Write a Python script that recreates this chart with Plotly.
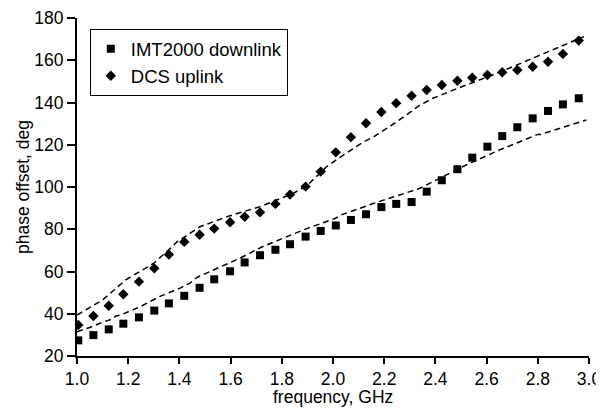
import plotly.graph_objects as go

# measured frequencies (GHz)
freq = [1.005, 1.064, 1.124, 1.181, 1.242, 1.302, 1.359, 1.419, 1.479, 1.536,
        1.598, 1.655, 1.715, 1.775, 1.832, 1.893, 1.952, 2.011, 2.070, 2.129,
        2.189, 2.247, 2.307, 2.366, 2.425, 2.486, 2.544, 2.603, 2.661, 2.720,
        2.780, 2.840, 2.898, 2.960]

imt_meas = [27.4, 29.9, 32.6, 35.3, 38.3, 41.5, 44.9, 48.5, 52.3, 56.3,
            60.1, 64.3, 67.7, 70.3, 72.9, 76.5, 79.2, 81.8, 84.4, 87.1,
            90.5, 92.0, 92.9, 97.8, 103.2, 108.4, 113.9, 119.1, 124.1, 128.3,
            132.5, 136.0, 139.1, 142.0]

dcs_meas = [34.7, 38.9, 43.8, 49.2, 55.2, 61.5, 68.0, 74.0, 77.4, 80.3,
            83.3, 85.9, 88.0, 92.0, 96.4, 100.2, 107.3, 116.4, 123.6, 130.2,
            135.5, 139.7, 143.2, 145.9, 148.3, 150.3, 151.7, 153.0, 154.3, 155.4,
            156.9, 159.3, 163.0, 169.3]

# simulated curves (dashed)
imt_sim_f = [1.00, 1.05, 1.10, 1.14, 1.15, 1.17, 1.25, 1.32, 1.40, 1.44, 1.47,
             1.52, 1.59, 1.64, 1.72, 1.77, 1.85, 1.90, 2.01, 2.03, 2.16, 2.26,
             2.34, 2.39, 2.52, 2.65, 2.78, 2.80, 2.81, 2.99]
imt_sim_v = [31.5, 33.5, 36.0, 37.6, 38.8, 39.4, 43.5, 48.0, 52.0, 54.4, 57.3,
             60.0, 63.9, 66.5, 71.5, 74.1, 78.0, 80.4, 85.2, 86.7, 92.3, 96.2,
             99.4, 102.5, 110.4, 117.5, 123.6, 124.9, 124.9, 131.7]

dcs_sim_f = [1.00, 1.10, 1.19, 1.30, 1.37, 1.39, 1.48, 1.585, 1.715, 1.845,
             1.90, 1.975, 2.03, 2.12, 2.16, 2.25, 2.34, 2.38, 2.39, 2.51, 2.64,
             2.77, 2.90, 2.98]
dcs_sim_v = [39.4, 46.5, 56.0, 63.9, 71.5, 74.0, 81.2, 85.9, 90.7, 97.0,
             100.8, 109.6, 114.3, 121.4, 123.8, 130.9, 138.8, 141.2, 142.0, 147.8, 153.8,
             160.4, 167.2, 171.2]

x_ticks = [1.0, 1.2, 1.4, 1.6, 1.8, 2.0, 2.2, 2.4, 2.6, 2.8, 3.0]
y_ticks = [20, 40, 60, 80, 100, 120, 140, 160, 180]

X_TITLE = "frequency, GHz"
Y_TITLE = "phase offset, deg"

FONT = "Liberation Sans, Arial, Helvetica, sans-serif"

fig = go.Figure()
dash = dict(color="black", width=1.5, dash="6px,4px")
fig.add_trace(go.Scatter(x=imt_sim_f, y=imt_sim_v, mode="lines", line=dash,
                         showlegend=False, hoverinfo="skip", cliponaxis=False))
fig.add_trace(go.Scatter(x=dcs_sim_f, y=dcs_sim_v, mode="lines", line=dash,
                         showlegend=False, hoverinfo="skip", cliponaxis=False))
fig.add_trace(go.Scatter(x=freq, y=imt_meas, mode="markers", name="IMT2000 downlink",
                         marker=dict(symbol="square", size=8, color="black")))
fig.add_trace(go.Scatter(x=freq, y=dcs_meas, mode="markers", name="DCS uplink",
                         marker=dict(symbol="diamond", size=8, color="black")))

axis_common = dict(showgrid=False, zeroline=False, showline=True, linecolor="black",
                   linewidth=2, ticks="outside", tickwidth=1.5,
                   tickcolor="black", tickfont=dict(family=FONT, size=17.5, color="black"),
                   mirror=False, automargin=False)

fig.update_xaxes(range=[1.0, 3.0], tickvals=x_ticks, ticklen=6,
                 ticktext=[f"{v:.1f}" for v in x_ticks],
                 **axis_common)
fig.update_yaxes(range=[20, 180], tickvals=y_ticks, ticklen=8,
                 title=dict(text=Y_TITLE, font=dict(family=FONT, size=17.5, color="black"),
                            standoff=0),
                 **axis_common)

fig.add_annotation(text=X_TITLE, xref="paper", yref="paper", x=0.5, y=0,
                   xanchor="center", yanchor="top", yshift=-30, showarrow=False,
                   borderpad=0,
                   font=dict(family=FONT, size=17.5, color="black"))

# page body has an 8px margin, so the figure is sized/margined to compensate
fig.update_layout(
    width=596, height=400,
    margin=dict(l=69, r=15, t=10, b=52),
    paper_bgcolor="white", plot_bgcolor="white",
    font=dict(family=FONT, size=17.5, color="black"),
    legend=dict(x=0.025, y=0.967, xanchor="left", yanchor="top",
                bordercolor="black", borderwidth=1, bgcolor="white",
                font=dict(family=FONT, size=18.5, color="black"),
                itemwidth=30, tracegroupgap=0),
    showlegend=True,
)

fig.write_html("out.html")
